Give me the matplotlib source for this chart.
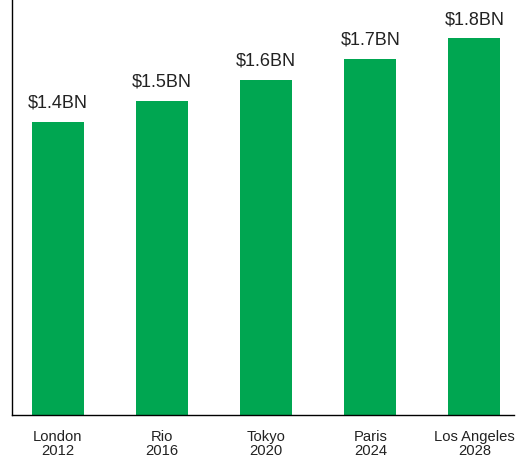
import matplotlib.pyplot as plt

plt.rcParams['font.family'] = ['Liberation Sans', 'DejaVu Sans']

cities = ['London', 'Rio', 'Tokyo', 'Paris', 'Los Angeles']
years = ['2012', '2016', '2020', '2024', '2028']
values = [1.4, 1.5, 1.6, 1.7, 1.8]
value_labels = ['$1.4BN', '$1.5BN', '$1.6BN', '$1.7BN', '$1.8BN']

fig = plt.figure(figsize=(5.18, 4.59), dpi=100)
ax = fig.add_axes([12 / 518, 44 / 459, 502 / 518, 415 / 459])

x = range(len(cities))
bars = ax.bar(x, values, width=0.5, color='#00A651')

for bar, lab in zip(bars, value_labels):
    ax.annotate(lab, (bar.get_x() + bar.get_width() / 2, bar.get_height()),
                xytext=(0, 7), textcoords='offset points',
                ha='center', va='bottom', fontsize=13, color='#222222')

ax.set_xticks(list(x))
ax.set_xticklabels([f'{c}\n{y}' for c, y in zip(cities, years)],
                   fontsize=10.6, color='#222222', linespacing=1.0)
ax.tick_params(axis='x', length=0, pad=11)
ax.set_yticks([])
ax.set_xlim(-0.44, 4.38)
ax.set_ylim(0, 1.98)

for side in ['top', 'right']:
    ax.spines[side].set_visible(False)
ax.spines['left'].set_linewidth(1)
ax.spines['bottom'].set_linewidth(1)

fig.savefig('out.png', dpi=100)
